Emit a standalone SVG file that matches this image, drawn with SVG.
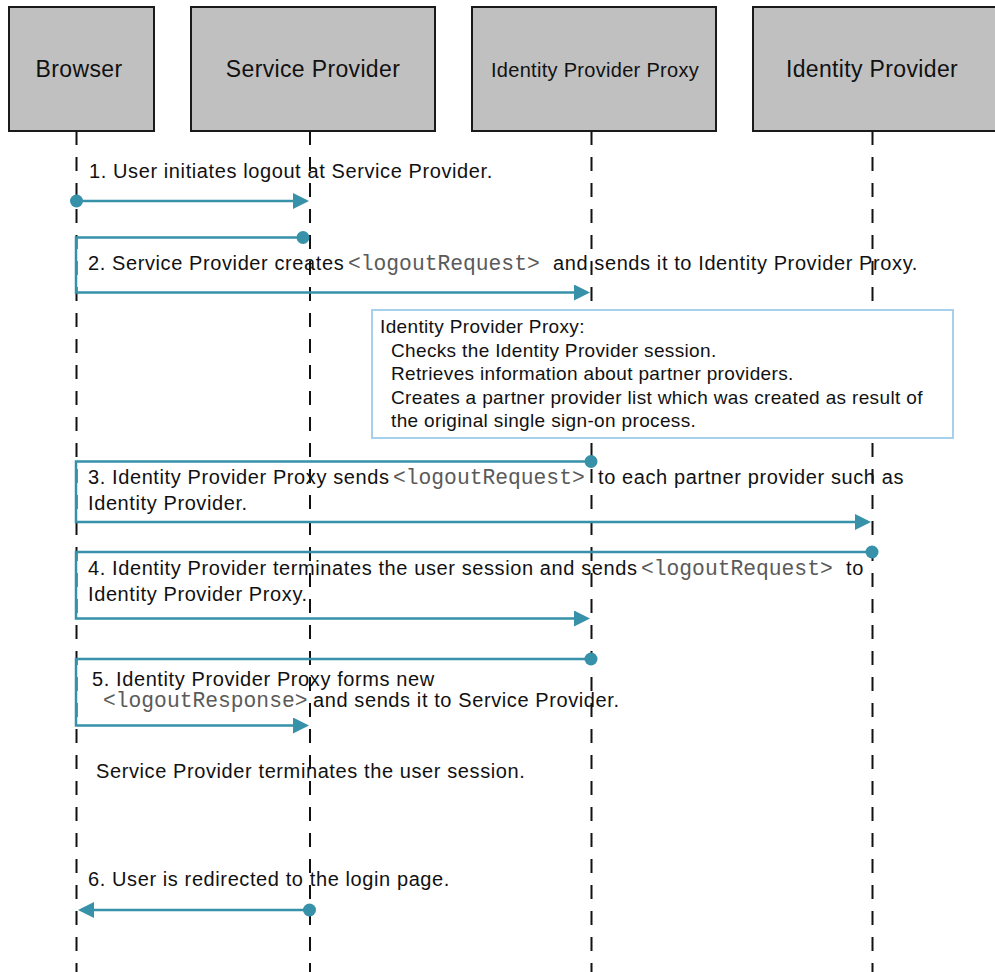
<svg xmlns="http://www.w3.org/2000/svg" width="995" height="972" viewBox="0 0 995 972">
  <style>
    .head { fill: #c0c0c0; stroke: #1a1a1a; stroke-width: 2; }
    .htxt { font-family: "Liberation Sans", Arial, sans-serif; font-size: 23px; letter-spacing: 0.35px; fill: #111; text-anchor: middle; }
    .life { stroke: #111; stroke-width: 2; stroke-dasharray: 14 12; fill: none; }
    .msg { stroke: #3691a9; stroke-width: 2.5; fill: none; }
    .dot { fill: #3691a9; }
    .lbl { font-family: "Liberation Sans", Arial, sans-serif; font-size: 20px; letter-spacing: 0.6px; fill: #111; }
    .mono { font-family: "Liberation Mono", "Courier New", monospace; font-size: 21.3px; letter-spacing: 0; fill: #5a5a5a; }
    .note { fill: #fff; stroke: #a6d0ec; stroke-width: 2; }
    .ntxt { font-family: "Liberation Sans", Arial, sans-serif; font-size: 19px; letter-spacing: 0.35px; fill: #111; }
  </style>
  <defs>
    <marker id="arrow" markerUnits="userSpaceOnUse" markerWidth="16" markerHeight="16" refX="13" refY="8" orient="auto">
      <path d="M0,0 L16,8 L0,16 z" fill="#3691a9"/>
    </marker>
  </defs>

  <rect width="995" height="972" fill="#fff"/>

  <!-- participants with their lifelines -->
  <g id="browser">
    <line class="life" x1="76.5" y1="131" x2="76.5" y2="972"/>
    <rect class="head" x="9" y="7" width="145" height="124"/>
    <text class="htxt" x="79" y="76.5">Browser</text>
  </g>
  <g id="service-provider">
    <line class="life" x1="310" y1="131" x2="310" y2="972"/>
    <rect class="head" x="191" y="7" width="244" height="124"/>
    <text class="htxt" x="313" y="76.5">Service Provider</text>
  </g>
  <g id="idp-proxy">
    <line class="life" x1="591.5" y1="131" x2="591.5" y2="972"/>
    <rect class="head" x="472" y="7" width="244" height="124"/>
    <text class="htxt" x="595" y="77" style="font-size:20px;letter-spacing:0.3px">Identity Provider Proxy</text>
  </g>
  <g id="identity-provider">
    <line class="life" x1="872.5" y1="131" x2="872.5" y2="972"/>
    <rect class="head" x="753" y="7" width="250" height="124"/>
    <text class="htxt" x="872" y="76.5">Identity Provider</text>
  </g>

  <!-- messages -->
  <g id="connectors">
    <path class="msg" d="M76.5,201 H306" marker-end="url(#arrow)"/>
    <circle class="dot" cx="76.5" cy="201" r="6.5"/>

    <path class="msg" d="M303,237.5 H76 V292.5 H587" marker-end="url(#arrow)"/>
    <circle class="dot" cx="303" cy="237.5" r="6.5"/>

    <path class="msg" d="M591,461.5 H76 V522 H868" marker-end="url(#arrow)"/>
    <circle class="dot" cx="591" cy="461.5" r="6.5"/>

    <path class="msg" d="M872,552 H76 V618.5 H587" marker-end="url(#arrow)"/>
    <circle class="dot" cx="872" cy="552" r="6.5"/>

    <path class="msg" d="M591,659 H76 V725.5 H306" marker-end="url(#arrow)"/>
    <circle class="dot" cx="591" cy="659" r="6.5"/>

    <path class="msg" d="M309.5,910 H81" marker-end="url(#arrow)"/>
    <circle class="dot" cx="309.5" cy="910" r="6.5"/>
  </g>

  <!-- message labels -->
  <g id="labels">
    <text class="lbl" x="89" y="177.5">1. User initiates logout at Service Provider.</text>
    <text class="lbl" y="269.5"><tspan x="88">2. Service Provider creates</tspan><tspan class="mono" x="348">&lt;logoutRequest&gt;</tspan><tspan x="553">and sends it to Identity Provider Proxy.</tspan></text>
    <text class="lbl" y="484"><tspan x="88">3. Identity Provider Proxy sends</tspan><tspan class="mono" x="393">&lt;logoutRequest&gt;</tspan><tspan x="598">to each partner provider such as</tspan></text>
    <text class="lbl" x="88" y="510">Identity Provider.</text>
    <text class="lbl" y="575"><tspan x="88">4. Identity Provider terminates the user session and sends</tspan><tspan class="mono" x="641">&lt;logoutRequest&gt;</tspan><tspan x="846">to</tspan></text>
    <text class="lbl" x="88" y="600.5">Identity Provider Proxy.</text>
    <text class="lbl" x="92" y="685.5">5. Identity Provider Proxy forms new</text>
    <text class="lbl" y="706.5"><tspan class="mono" x="103">&lt;logoutResponse&gt;</tspan><tspan x="313">and sends it to Service Provider.</tspan></text>
    <text class="lbl" x="96" y="778">Service Provider terminates the user session.</text>
    <text class="lbl" x="88" y="885.5">6. User is redirected to the login page.</text>
  </g>

  <!-- proxy processing note -->
  <g id="proxy-note">
    <rect class="note" x="372" y="310" width="581" height="128"/>
    <text class="ntxt" x="380" y="333">Identity Provider Proxy:</text>
    <text class="ntxt" x="391" y="356.5">Checks the Identity Provider session.</text>
    <text class="ntxt" x="391" y="380">Retrieves information about partner providers.</text>
    <text class="ntxt" x="391" y="403.5">Creates a partner provider list which was created as result of</text>
    <text class="ntxt" x="391" y="427">the original single sign-on process.</text>
  </g>
</svg>
